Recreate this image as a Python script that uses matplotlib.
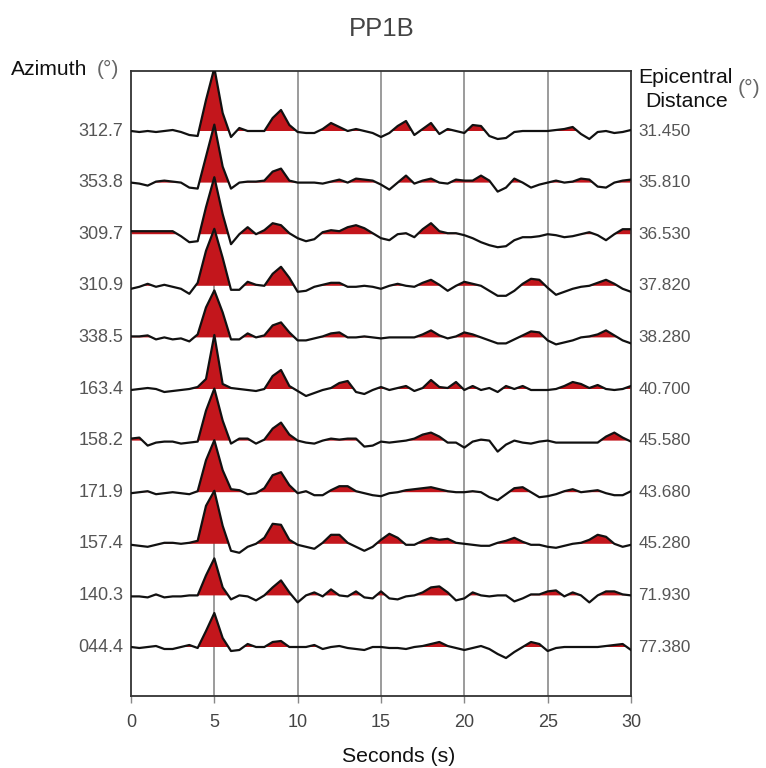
import numpy as np
import matplotlib
matplotlib.use("Agg")
import matplotlib.pyplot as plt

plt.rcParams['font.family'] = ['Liberation Sans', 'DejaVu Sans']

title = "PP1B"
azimuths = ["312.7", "353.8", "309.7", "310.9", "338.5", "163.4",
            "158.2", "171.9", "157.4", "140.3", "044.4"]
distances = ["31.450", "35.810", "36.530", "37.820", "38.280", "40.700",
             "45.580", "43.680", "45.280", "71.930", "77.380"]

# time samples (s), 0.5 s step from 0 to 30
times = np.arange(0, 30.01, 0.5)

# amplitudes (arbitrary units), one list per trace
tr01 = [0, -1, 0, -1, 0, 1, -1, -4, -5, 31, 63, 18, -6, 3, 0, 0, 0, 13, 21, 6, -1, -2, -2, 2, 8, 4, 0, 2, 0, -2,
        -6, -2, 5, 10, -4, 2, 8, -3, 2, 0, -2, 6, 5, -5, -8, -7, -1, 0, 0, 0, 0, 1, 2, 4, -3, -8, -1, 0, -2, -1, 1]
tr02 = [0, -1, -3, 1, 2, 1, 0, -5, -6, 26, 58, 16, -6, 0, 1, 1, 2, 11, 14, 2, 0, 0, 0, -1, 1, 3, 0, 4, 3, 2,
        -2, -7, 0, 7, -1, 2, 4, 0, -1, 3, 2, 2, 7, 2, -9, -5, 4, 0, -5, -2, 0, 2, 0, 1, 4, 3, -4, -5, 0, 2, 3]
tr03 = [3, 3, 3, 3, 3, 3, -2, -8, -7, 27, 57, 20, -10, 0, 7, 0, 4, 11, 9, 1, -4, -7, -5, 2, 4, 3, 7, 9, 6, 1,
        -4, -6, 0, 1, -3, 5, 11, 3, 1, 1, -1, -4, -8, -11, -13, -12, -6, -3, -3, -2, 0, -1, -3, -2, 0, 2, -1, -6, 0, 5, 5]
tr04 = [-3, -1, 2, -1, 1, -1, -3, -8, 3, 35, 57, 28, -4, -4, 4, 1, 0, 12, 19, 8, -6, -5, -1, 1, 3, 3, -1, -1, 0, -1,
        -3, 0, 2, 0, -1, 3, 6, 1, -5, 0, 4, 2, 0, -5, -10, -10, -5, 2, 7, 6, -2, -9, -6, -3, -1, 0, 3, 6, 2, -3, -6]
tr05 = [1, 1, 2, -2, 0, -2, -1, -4, 3, 30, 47, 25, -2, -2, 4, 0, 2, 12, 15, 5, -3, -3, -1, 1, 4, 5, 0, 0, 1, 0,
        -1, 0, 0, 0, 0, 3, 7, 2, -1, 1, 5, 3, 0, -3, -6, -6, -2, 2, 6, 5, -3, -7, -5, -3, 0, 1, 3, 7, 2, -3, -6]
tr06 = [-1, 0, 1, 0, -3, -2, -1, 0, 2, 10, 54, 5, 1, 0, -1, -2, 0, 13, 19, 3, -2, -7, -4, -1, 1, 6, 8, -3, -5, -1,
        2, -1, 1, 3, -2, 1, 9, 2, 1, 7, -1, 3, -1, 1, -3, 3, 0, 3, -1, -1, -1, 0, 3, 7, 5, 1, 4, 0, -1, 0, 3]
tr07 = [2, 3, -5, -2, -1, -1, -3, -2, -1, 30, 52, 20, -3, 2, 2, -3, 1, 12, 18, 6, 0, -2, -3, 0, 2, 1, 2, 2, -6, -5,
        -1, -2, -1, 0, 2, 6, 8, 4, -2, -2, -7, -1, 1, 0, -11, -4, 0, -2, -3, -1, 0, -2, -2, -2, -2, -2, -2, 4, 8, 3, -1]
tr08 = [-1, 0, 1, -2, -1, 0, -1, -2, 1, 32, 52, 22, 3, 2, -2, -1, 4, 17, 20, 7, -1, 1, -3, -3, 2, 6, 6, 1, -1, -3,
        -4, -1, 0, 2, 3, 4, 5, 3, 1, 0, 0, 1, 0, -5, -8, -2, 4, 5, 0, -5, -4, -2, 1, 3, 0, 1, 2, -1, -3, -3, 1]
tr09 = [-1, -2, -3, -1, 1, 1, 0, 1, 3, 38, 53, 18, -7, -9, -3, 0, 6, 20, 19, 4, -1, -3, -5, 1, 9, 9, 1, -3, -7, -3,
        4, 10, 6, -1, -1, 3, 6, 4, 5, 1, 0, -1, -2, -2, 1, 3, 6, 2, -1, -1, -3, -4, -2, 0, 1, 4, 9, 7, 0, -3, -1]
tr10 = [-1, -1, -2, 1, -2, -1, -1, 0, 0, 20, 37, 8, -4, 0, -1, -5, 0, 8, 15, 3, -7, 0, 3, -1, 6, 0, -1, 4, -2, -3,
        4, -3, -4, -1, 0, 3, 8, 9, 3, -5, -3, 3, 0, -1, 0, 0, -6, -3, 1, 1, 4, 5, -1, 3, 0, -7, 0, 4, 4, 1, 0]
tr11 = [0, -1, 0, 1, -2, -2, 0, 2, -1, 16, 34, 9, -4, -3, 3, 0, 0, 5, 6, 0, 0, 0, 2, -2, 0, 1, -1, -2, -3, 0,
        0, -1, -1, -2, 0, 1, 3, 5, 1, -1, -3, -1, 1, -2, -7, -11, -5, 0, 5, 3, -4, -1, 0, 0, 0, 0, 0, 1, 2, 3, -3]
traces = [tr01, tr02, tr03, tr04, tr05, tr06, tr07, tr08, tr09, tr10, tr11]

xticks = [0, 5, 10, 15, 20, 25, 30]

W, H = 766, 768
fig = plt.figure(figsize=(W / 100, H / 100), dpi=100)
ax = fig.add_axes([131 / W, 1 - 696 / H, 500 / W, 625 / H])

spacing = 51.6
red = '#c3161c'
for i, tr in enumerate(traces):
    base = -i * spacing
    y = base + np.asarray(tr, dtype=float)
    ax.fill_between(times, base, y, where=y >= base, interpolate=True,
                    color=red, linewidth=0, zorder=2 + i * 0.01)
    ax.plot(times, y, color='#111111', lw=1.6, zorder=3 + i * 0.01,
            solid_joinstyle='round')

for xv in xticks[1:-1]:
    ax.axvline(xv, color='#8a8a8a', lw=1.2, zorder=1)

ax.set_xlim(0, 30)
ax.set_ylim(-565, 60)
ax.set_xticks(xticks)
ax.set_xticklabels([str(v) for v in xticks], fontsize=13, color='#444444')
ax.tick_params(axis='x', direction='out', length=5, width=1.0, color='#888888', pad=8)
ax.set_yticks([])
for s in ax.spines.values():
    s.set_color('#333333')
    s.set_linewidth(1.3)

# side labels
for i, (az, dist) in enumerate(zip(azimuths, distances)):
    yb = -i * spacing
    ax.text(-0.45, yb, az, ha='right', va='center', fontsize=13, color='#555555')
    ax.text(30.45, yb, dist, ha='left', va='center', fontsize=12.3, color='#555555')

def ftext(x, y, s, **kw):
    fig.text(x / W, 1 - y / H, s, **kw)

ftext(11, 75, "Azimuth", ha='left', va='baseline', fontsize=15.2, color='#111111')
ftext(97, 75, "(°)", ha='left', va='baseline', fontsize=15.2, color='#666666')
ftext(638, 83, "Epicentral", ha='left', va='baseline', fontsize=15.3, color='#111111')
ftext(645, 107, "Distance", ha='left', va='baseline', fontsize=15.3, color='#111111')
ftext(738, 94, "(°)", ha='left', va='baseline', fontsize=15.3, color='#666666')

ftext(382, 29, title, ha='center', va='center', fontsize=18.5, color='#444444')
ftext(399, 762, "Seconds (s)", ha='center', va='baseline', fontsize=15.3, color='#111111')

fig.savefig("out.png", dpi=100)
